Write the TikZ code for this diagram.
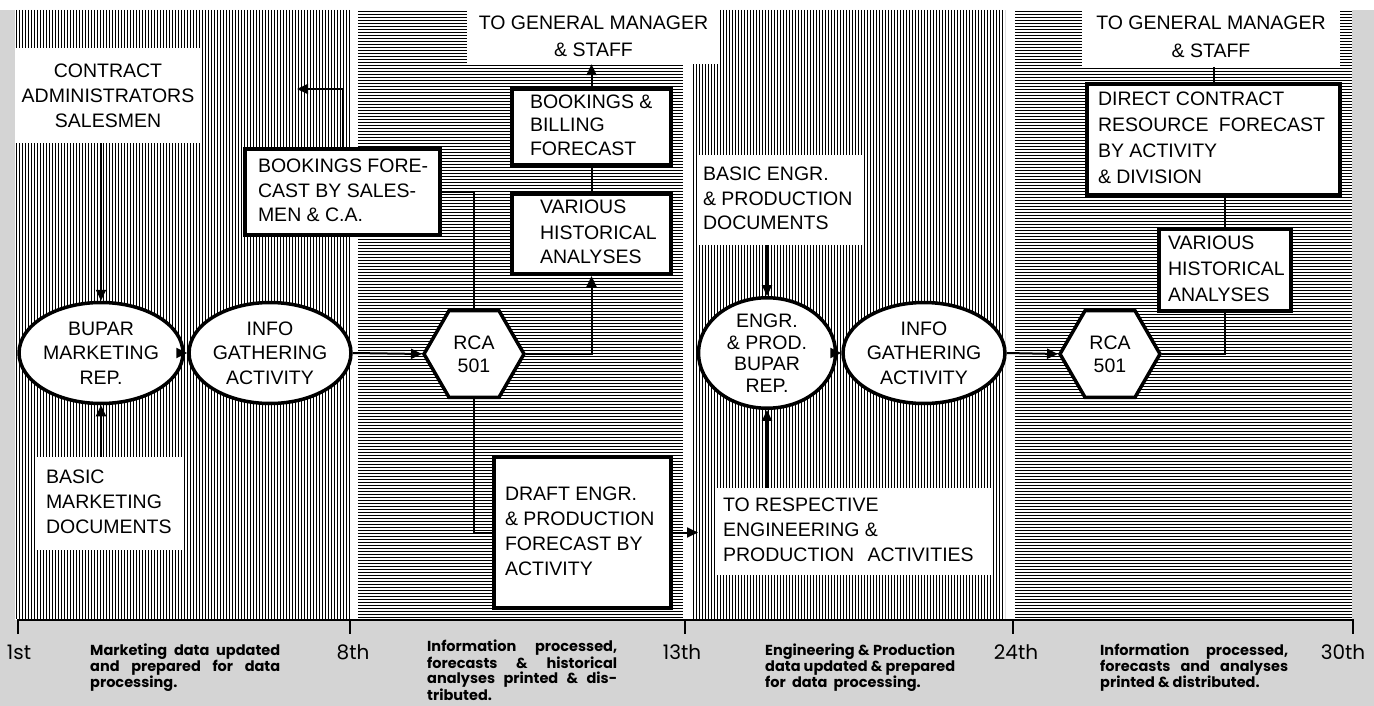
\documentclass[tikz,border=0pt]{standalone}
\usepackage{fontspec}
\setmainfont{Liberation Sans}
\newfontfamily\geo{Poppins}
\usetikzlibrary{shapes.geometric,arrows.meta}
\definecolor{bggray}{HTML}{D4D4D4}
\newcommand{\ltab}[2]{\makebox[#1][l]{\begin{tabular}{@{}l@{}}#2\end{tabular}}}
\tikzset{
  boxtxt/.style={font=\fontsize{19.5}{25}\selectfont},
  box/.style={boxtxt, draw, line width=4pt, fill=white, inner sep=0pt},
  lbl/.style={boxtxt, fill=white, inner sep=0pt},
  oval/.style={ellipse, draw, line width=3.5pt, fill=white, inner sep=0pt, align=center,
               font=\fontsize{19.5}{24.5}\selectfont},
  hexa/.style={regular polygon, regular polygon sides=6, draw, line width=3.5pt, fill=white,
               inner sep=0pt, minimum size=100pt, align=center, font=\fontsize{19.5}{23}\selectfont},
  conn/.style={line width=2pt},
  arr/.style={conn, -{Triangle[length=11pt,width=10pt]}},
  axl/.style={font=\geo\fontsize{20}{22}\selectfont, inner sep=0pt},
  desc/.style={font=\geo\bfseries\fontsize{14.5}{16}\selectfont, inner sep=0pt, align=left, anchor=north west},
}
\begin{document}
\begin{tikzpicture}[x=1pt,y=-1pt]
\useasboundingbox (0,0) rectangle (1374,706);
% background
\fill[bggray] (0,0) rectangle (1374,706);
\fill[white] (0,0) rectangle (1374,10);
\fill[white] (15,0) rectangle (1352,620);
% panel hatching
\begin{scope}
  \clip (15,10) rectangle (351,619);
  \foreach \x in {16.5,19.5,...,352} \draw[line width=1.3pt] (\x,10) -- (\x,619);
\end{scope}
\begin{scope}
  \clip (358,10) rectangle (683,619);
  \foreach \y in {11.5,14.5,...,620} \draw[line width=1.1pt] (358,\y) -- (683,\y);
\end{scope}
\begin{scope}
  \clip (692,10) rectangle (1005,619);
  \foreach \x in {693.5,696.5,...,1006} \draw[line width=1.3pt] (\x,10) -- (\x,619);
\end{scope}
\begin{scope}
  \clip (1015,10) rectangle (1352,619);
  \foreach \y in {11.5,14.5,...,620} \draw[line width=1.1pt] (1015,\y) -- (1352,\y);
\end{scope}

% nodes
\node[lbl, minimum width=186pt, minimum height=95pt, align=center] (ca) at (108,95.5)
  {CONTRACT\\ADMINISTRATORS\\SALESMEN};
\node[lbl, minimum width=145pt, minimum height=93pt] (bmd) at (109.5,503.5)
  {\ltab{127pt}{BASIC\\MARKETING\\DOCUMENTS}};
\node[box, minimum width=195pt, minimum height=86pt] (bf) at (342.5,192)
  {\ltab{169pt}{BOOKINGS FORE-\\CAST BY SALES-\\MEN \& C.A.}};
\node[oval, minimum width=134pt, minimum height=101pt] (bupar) at (101,353)
  {BUPAR\\MARKETING\\REP.};
\node[oval, minimum width=137pt, minimum height=101pt] (info1) at (270,353)
  {INFO\\GATHERING\\ACTIVITY};
\node[hexa] (rca1) at (474,354) {RCA\\501};
\node[box, minimum width=159pt, minimum height=80pt] (vha1) at (591.5,234)
  {\ltab{103pt}{VARIOUS\\HISTORICAL\\ANALYSES}};
\node[box, minimum width=159pt, minimum height=76pt, font=\fontsize{19.5}{23.5}\selectfont] (bb) at (591.5,127)
  {\ltab{123pt}{BOOKINGS \&\\BILLING\\FORECAST}};
\node[lbl, minimum width=253pt, minimum height=56pt, align=center, font=\fontsize{19.5}{27}\selectfont] (gm1) at (593.5,36)
  {TO GENERAL MANAGER\\\& STAFF};
\node[box, minimum width=177pt, minimum height=151pt] (draft) at (582.5,532.5)
  {\ltab{155pt}{DRAFT ENGR.\\\& PRODUCTION\\FORECAST BY\\ACTIVITY}};
\node[lbl, minimum width=275pt, minimum height=87pt] (tresp) at (854.5,531.5)
  {\ltab{263pt}{TO RESPECTIVE\\ENGINEERING \&\\PRODUCTION\hspace{8pt} ACTIVITIES}};
\node[lbl, minimum width=165pt, minimum height=90pt] (bed) at (780.5,200)
  {\ltab{155pt}{BASIC ENGR.\\\& PRODUCTION\\DOCUMENTS}};
\node[oval, minimum width=137pt, minimum height=102pt, font=\fontsize{19.5}{21.5}\selectfont] (engr) at (767,353)
  {ENGR.\\\& PROD.\\BUPAR\\REP.};
\node[oval, minimum width=135pt, minimum height=101pt] (info2) at (924,353)
  {INFO\\GATHERING\\ACTIVITY};
\node[hexa] (rca2) at (1110,354) {RCA\\501};
\node[box, minimum width=132pt, minimum height=82pt, font=\fontsize{19.5}{26}\selectfont] (vha2) at (1225,270)
  {\ltab{114pt}{VARIOUS\\HISTORICAL\\ANALYSES}};
\node[box, minimum width=253pt, minimum height=111pt, font=\fontsize{19.5}{26}\selectfont] (dc) at (1213.5,139.5)
  {\ltab{231pt}{DIRECT CONTRACT\\RESOURCE\hspace{5pt} FORECAST\\BY ACTIVITY\\\& DIVISION}};
\node[lbl, minimum width=258pt, minimum height=61pt, align=center, font=\fontsize{19.5}{28}\selectfont] (gm2) at (1211,36.5)
  {TO GENERAL MANAGER\\\& STAFF};

\coordinate (bfend) at (297,89);
\coordinate (tr) at (698,532.5);

% connectors
\draw[arr] (ca.south -| bupar.north) -- (bupar.north);
\draw[arr] (bmd.north -| bupar.south) -- (bupar.south);
\draw[arr] (bupar.east) -- (info1.west);
\draw[arr] (info1.east) -- (rca1.west);
\draw[arr] (bf.north) |- (bfend);
\draw[conn] (rca1.north) |- (bf.east);
\draw[arr] (rca1.east) -| (vha1.south);
\draw[conn] (vha1.north) -- (bb.south);
\draw[arr] (bb.north) -- (bb.north |- gm1.south);
\draw[conn] (rca1.south) |- (draft.west);
\draw[arr] (draft.east) -- (tr);
\draw[arr] (engr.south |- tresp.north) -- (engr.south);
\draw[arr] (bed.south -| engr.north) -- (engr.north);
\draw[arr] (engr.east) -- (info2.west);
\draw[arr] (info2.east) -- (rca2.west);
\draw[conn] (rca2.east) -| (vha2.south);
\draw[conn] (vha2.north) -- (vha2.north |- dc.south);
\draw[conn] (dc.north) -- (dc.north |- gm2.south);

% time axis
\draw[line width=2.5pt] (18,634) -- (18,620) -- (1353,620) -- (1353,634);
\foreach \t in {350,685,1013} \draw[line width=2.5pt] (\t,620) -- (\t,634);
\node[axl] (d1) at (19,652.5) {1st};
\node[axl] (d8) at (353,652.5) {8th};
\node[axl] (d13) at (682,652.5) {13th};
\node[axl] (d24) at (1016,652.5) {24th};
\node[axl] (d30) at (1343,652.5) {30th};

\node[desc] (t1) at (90,644)
  {\makebox[190pt][s]{Marketing data updated}\\\makebox[190pt][s]{and prepared for data}\\processing.};
\node[desc, font=\geo\bfseries\fontsize{14.5}{15.3}\selectfont] (t2) at (427,640)
  {\makebox[190pt][s]{Information processed,}\\\makebox[190pt][s]{forecasts \& historical}\\\makebox[190pt][s]{analyses printed \& dis-}\\tributed.};
\node[desc] (t3) at (765,644)
  {\makebox[190pt][s]{Engineering \& Production}\\\makebox[190pt][s]{data updated \& prepared}\\for\ \ data\ \ processing.};
\node[desc] (t4) at (1100,644)
  {\makebox[188pt][s]{Information processed,}\\\makebox[188pt][s]{forecasts and analyses}\\printed \& distributed.};
\end{tikzpicture}
\end{document}
